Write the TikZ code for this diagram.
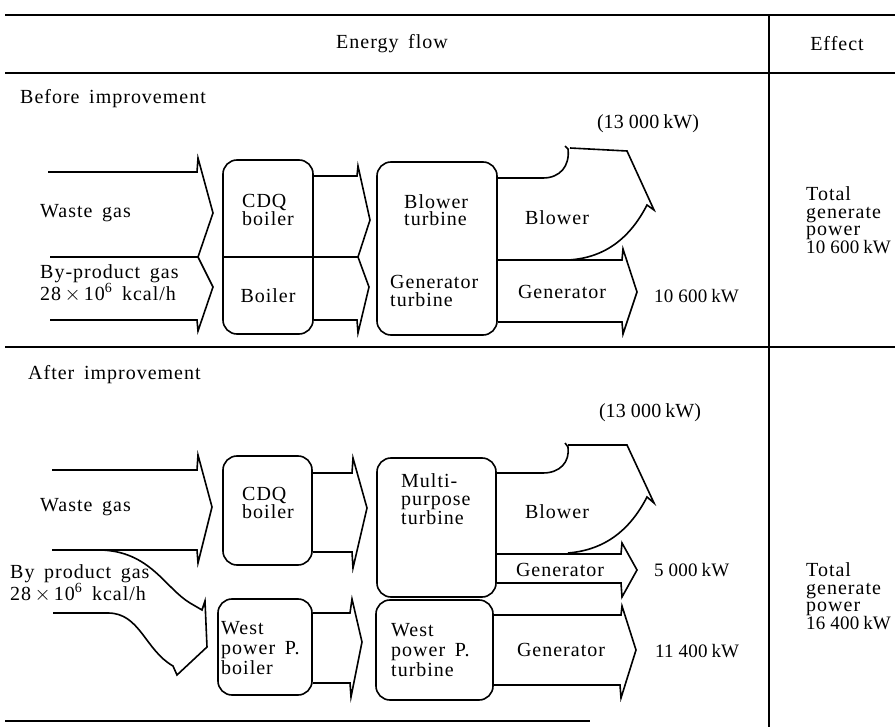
\documentclass[tikz,border=0pt]{standalone}
\usepackage{fontspec}
\setmainfont{Liberation Serif}[LetterSpace=5, WordSpace=1.6]
\newfontfamily\numfont{Liberation Serif}[LetterSpace=1]
\newcommand{\kwv}[2]{{\numfont\fontsize{19}{17.5}\selectfont #1\kern5pt#2\kern4pt kW}}
\begin{document}
\begin{tikzpicture}[x=1pt,y=-1pt,
  every node/.style={font=\fontsize{20}{17.5}\selectfont, inner sep=0pt},
  wide/.style={font=\fontsize{20}{20}\selectfont},
  rule/.style={line width=1.9pt},
  flow/.style={line width=1.6pt, line join=miter},
  box/.style={draw, line width=1.6pt, rounded corners=14pt, inner sep=0pt},
  lbl/.style={anchor=west, align=left},
  mid/.style={anchor=center, align=center}]
\useasboundingbox (0,0) rectangle (895,727);

% ---------- table rules ----------
\draw[rule] (5,15) -- (895,15);
\draw[rule] (5,73) -- (895,73);
\draw[rule] (769,15) -- (769,727);
\draw[rule] (5,347) -- (895,347);
\draw[rule] (5,721) -- (590,721);

\node[mid] (hflow) at (392,44) {Energy flow};
\node[mid] (heff) at (837,44) {Effect};

% ================= BEFORE =================
\node[lbl] (before) at (20,99) {Before improvement};
\node[mid] (pw1) at (648,124) {({\numfont 13\kern5pt 000\kern4pt kW})};

% input arrows
\draw[flow] (48,172) -- (197,172) -- (198,158) -- (213,213) -- (198,257);
\draw[flow] (50,257) -- (198,257) -- (213,287) -- (198,331) -- (197,320) -- (50,320);
\node[lbl] (wg1) at (40,213) {Waste gas};
\node[lbl, wide] (bp1) at (40,283) {By-product gas\\28\,$\times$\,10\textsuperscript{6} kcal/h};

% boiler box
\node[box, minimum width=90pt, minimum height=174pt] (b1) at (268,247) {};
\draw[flow] (b1.west |- 0,257) -- (358,257);
\node[lbl] (cdq1) at (242,210) {CDQ\\boiler};
\node[mid] (boil1) at (268,296) {Boiler};

% arrows boiler -> turbine
\draw[flow] (b1.east |- 0,176) -- (357,176) -- (358,166) -- (370,220) -- (358,257)
  -- (369,287) -- (358,333) -- (357,320) -- (b1.east |- 0,320);

% turbine box
\node[box, minimum width=120pt, minimum height=173pt] (t1) at (437,248.5) {};
\node[lbl] (bt1) at (404,210) {Blower\\turbine};
\node[lbl] (gt1) at (390,291) {Generator\\turbine};

% blower arrow
\draw[flow] (t1.east |- 0,178) -- (543,178) .. controls (560,178) and (570,166) .. (568,149)
  -- (565,146);
\draw[flow] (570,148) -- (627,151) -- (654,210) -- (647,205)
  .. controls (630,238) and (605,258) .. (568,260);
\node[mid] (bl1) at (557,218) {Blower};
% generator arrow
\draw[flow] (t1.east |- 0,260) -- (622,260) -- (623,249) -- (637,292) -- (623,334)
  -- (622,322) -- (t1.east |- 0,322);
\node[mid] (gen1) at (562,292) {Generator};
\node[lbl] (kw1) at (654,296) {\kwv{10}{600}};

\node[lbl] (eff1) at (806,220) {Total\\generate\\power\\\kwv{10}{600}};

% ================= AFTER =================
\node[lbl] (after) at (28,375) {After improvement};
\node[mid] (pw2) at (650,413) {({\numfont 13\kern5pt 000\kern4pt kW})};

% waste gas arrow
\draw[flow] (52,470) -- (197,470) -- (198,455) -- (212,507) -- (198,563) -- (197,550) -- (52,550);
\node[lbl] (wg2) at (40,507) {Waste gas};

% by product gas curved arrow
\draw[flow] (100,550) .. controls (150,551) and (165,588) .. (190,603) -- (202,610) -- (205,601)
  -- (207,647) -- (177,675) -- (173,666)
  .. controls (145,650) and (140,613) .. (108,613) -- (53,613);
\node[lbl, wide] (bp2) at (10,583) {By product gas\\28\,$\times$\,10\textsuperscript{6} kcal/h};

% CDQ boiler
\node[box, minimum width=89pt, minimum height=109pt] (a1) at (267.5,510.5) {};
\node[lbl] (cdq2) at (242,503) {CDQ\\boiler};
% west power boiler
\node[box, minimum width=94pt, minimum height=96pt] (a3) at (265,647) {};
\node[lbl, wide] (wb2) at (221,648) {West\\power P.\\boiler};

% arrows to turbines
\draw[flow] (a1.east |- 0,473) -- (352,473) -- (353,458) -- (367,508) -- (353,568)
  -- (352,552) -- (a1.east |- 0,552);
\draw[flow] (a3.east |- 0,613) -- (350,613) -- (352,599) -- (362,642) -- (351,697)
  -- (350,683) -- (a3.east |- 0,683);

% turbines
\node[box, minimum width=119pt, minimum height=139pt] (a2) at (436.5,527.5) {};
\node[lbl] (mt2) at (401,499) {Multi-\\purpose\\turbine};
\node[box, minimum width=117pt, minimum height=100pt] (a4) at (434.5,650) {};
\node[lbl, wide] (wt2) at (391,650) {West\\power P.\\turbine};

% blower arrow
\draw[flow] (a2.east |- 0,473) -- (543,473) .. controls (560,473) and (570,462) .. (568,447)
  -- (565,443);
\draw[flow] (568,445) -- (627,445) -- (654,503) -- (647,497)
  .. controls (630,530) and (605,550) .. (568,553);
\node[mid] (bl2) at (557,512) {Blower};
% generator 5000
\draw[flow] (a2.east |- 0,554) -- (621,554) -- (622,543) -- (637,570) -- (622,597)
  -- (621,583) -- (a2.east |- 0,583);
\node[mid] (gen2) at (560,570) {Generator};
\node[lbl] (kw2) at (654,570) {\kwv{5}{000}};
% generator 11400
\draw[flow] (a4.east |- 0,615) -- (621,615) -- (622,606) -- (636,650) -- (621,698)
  -- (620,685) -- (a4.east |- 0,685);
\node[mid] (gen3) at (561,650) {Generator};
\node[lbl] (kw3) at (655,651) {\kwv{11}{400}};

\node[lbl] (eff2) at (806,596) {Total\\generate\\power\\\kwv{16}{400}};
\end{tikzpicture}
\end{document}
